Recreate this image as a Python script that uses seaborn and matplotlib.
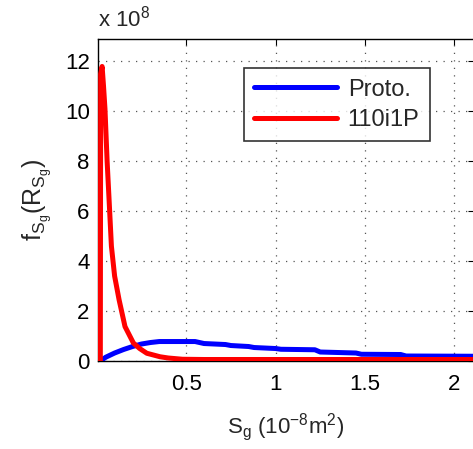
import numpy as np
import pandas as pd
import matplotlib
matplotlib.use("Agg")
import matplotlib.pyplot as plt
import seaborn as sns

# Data (S_g in 1e-8 m^2, f in 1e8)
proto_x = [0.02, 0.05, 0.10, 0.15, 0.20, 0.25, 0.30, 0.35, 0.55, 0.60, 0.72, 0.75, 0.85, 0.88,
           1.00, 1.03, 1.22, 1.25, 1.45, 1.48, 1.70, 1.73, 2.11]
proto_y = [0.00, 0.15, 0.32, 0.46, 0.58, 0.68, 0.74, 0.78, 0.78, 0.70, 0.66, 0.62, 0.58, 0.54,
           0.50, 0.47, 0.45, 0.36, 0.32, 0.27, 0.26, 0.20, 0.19]
p110_x = [0.020, 0.022, 0.030, 0.038, 0.046, 0.058, 0.068, 0.082, 0.100, 0.125, 0.158, 0.205,
          0.240, 0.280, 0.354, 0.400, 0.480, 0.600, 1.000, 1.500, 2.110]
p110_y = [0.00, 11.5, 11.8, 11.0, 10.1, 8.0, 6.6, 4.6, 3.4, 2.45, 1.38, 0.72,
          0.50, 0.31, 0.17, 0.12, 0.07, 0.06, 0.06, 0.06, 0.06]
series_names = ["Proto.", "110i1P"]
x_ticks = [0.5, 1, 1.5, 2]
x_tick_labels = ["0.5", "1", "1.5", "2"]
y_ticks = [0, 2, 4, 6, 8, 10, 12]

df = pd.DataFrame({
    "x": proto_x + p110_x,
    "y": proto_y + p110_y,
    "series": [series_names[0]] * len(proto_x) + [series_names[1]] * len(p110_x),
})

sns.set_theme(style="white")
plt.rcParams["font.family"] = ["Liberation Sans", "DejaVu Sans"]
plt.rcParams["mathtext.fontset"] = "custom"
plt.rcParams["mathtext.rm"] = "Liberation Sans"
plt.rcParams["mathtext.it"] = "Liberation Sans"

FS = 16
fig = plt.figure(figsize=(4.73, 4.49), dpi=100)
L, R, T, B = 98 / 473, 474 / 473, 1 - 39 / 449, 1 - 361 / 449
ax = fig.add_axes([L, B, R - L, T - B])

sns.lineplot(data=df, x="x", y="y", hue="series", palette=["#0000ff", "#ff0000"],
             estimator=None, sort=False, linewidth=3.6, ax=ax, legend=True)
for ln in ax.get_lines():
    ln.set_zorder(3)
    ln.set_solid_joinstyle("round")

ax.set_xlim(0.007, 2.11)
ax.set_ylim(0, 12.9)
ax.set_xticks(x_ticks)
ax.set_xticklabels(x_tick_labels)
ax.set_yticks(y_ticks)
ax.set_yticklabels([str(v) for v in y_ticks])
ax.tick_params(direction="in", length=4, width=0.8, top=True, right=True,
               labelsize=FS, colors="black")
ax.tick_params(axis="x", pad=9)
ax.tick_params(axis="y", pad=6)
ax.grid(True, linestyle=(0, (1, 5)), color="#555555", linewidth=0.9)
for s in ax.spines.values():
    s.set_color("black")
    s.set_linewidth(1.0)

ax.set_xlabel(r"S$_\mathrm{g}$ (10$^{-8}$m$^2$)", fontsize=FS, labelpad=12)
ax.set_ylabel(r"f$_{\mathrm{S_g}}$(R$_{\mathrm{S_g}}$)", fontsize=18, labelpad=8)
fig.text(98 / 473, 1 - 27 / 449, r"x 10$^8$", fontsize=FS, ha="left", va="baseline")

leg = ax.legend(loc="upper right", bbox_to_anchor=(0.883, 0.91), borderaxespad=0,
                fontsize=17, handlelength=3.5, handletextpad=0.45, labelspacing=0.35,
                borderpad=0.45, fancybox=False, frameon=True, title=None)
leg.get_frame().set_edgecolor("black")
leg.get_frame().set_linewidth(1.2)
for line in leg.get_lines():
    line.set_linewidth(3.6)

fig.savefig("out.png", dpi=100)
